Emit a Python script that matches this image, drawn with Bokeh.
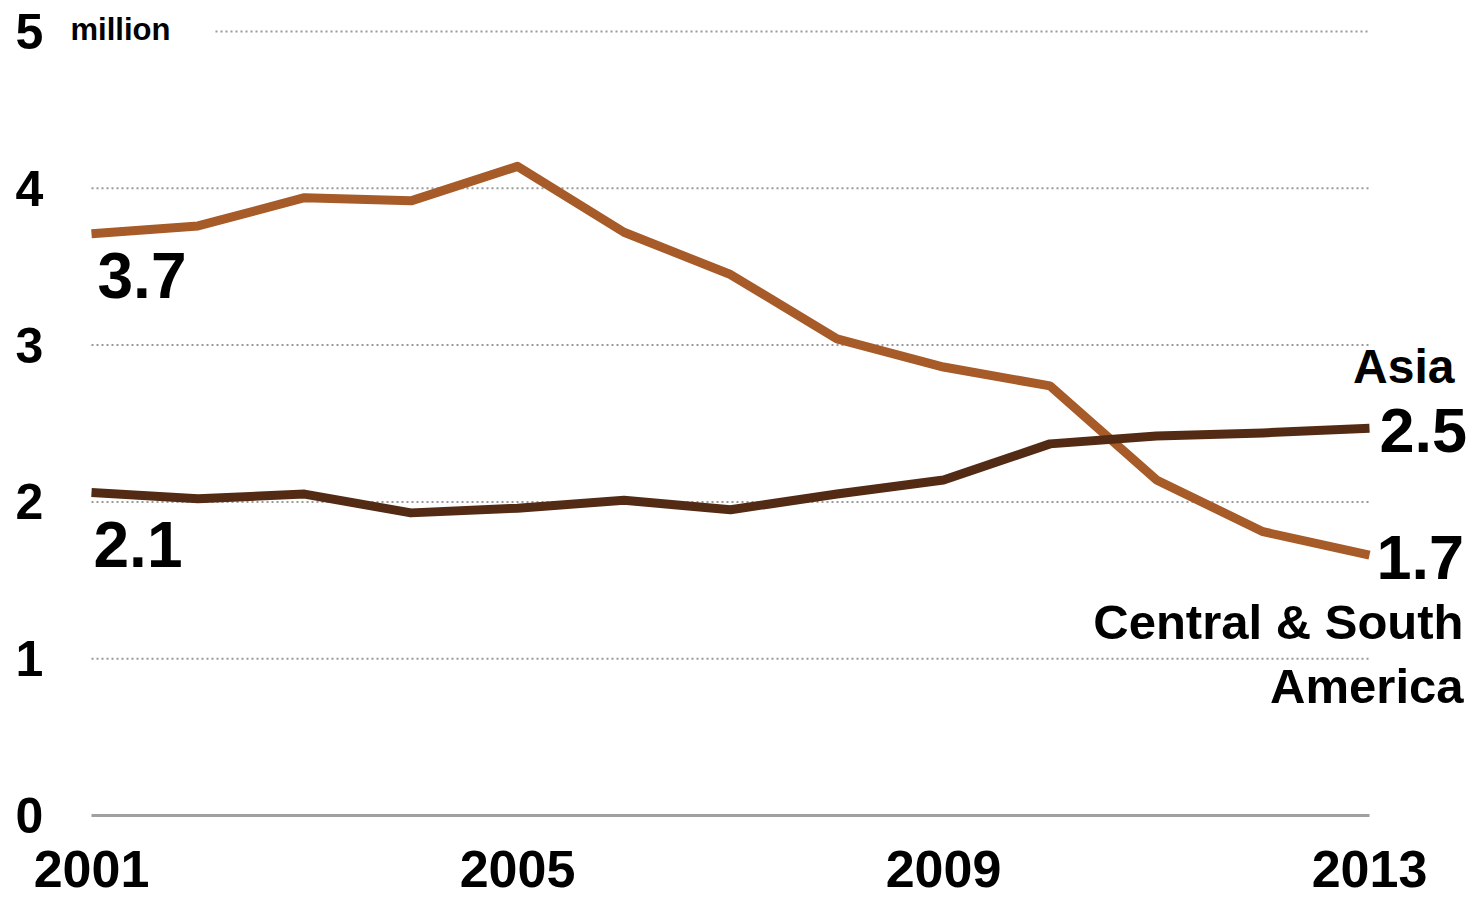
from bokeh.plotting import figure
from bokeh.models import Label, Range1d
from bokeh.embed import file_html
from bokeh.resources import INLINE

years = list(range(2001, 2014))
central_south_america = [3.71, 3.76, 3.94, 3.92, 4.14, 3.72, 3.45, 3.04, 2.86, 2.74, 2.14, 1.81, 1.66]
asia = [2.06, 2.02, 2.05, 1.93, 1.96, 2.01, 1.95, 2.05, 2.14, 2.37, 2.42, 2.44, 2.47]
x_ticks = [2001, 2005, 2009, 2013]
y_ticks = [0, 1, 2, 3, 4, 5]
x_tick_labels = ["2001", "2005", "2009", "2013"]
y_tick_labels = ["0", "1", "2", "3", "4", "5"]

LIGHT = "#A65B28"
DARK = "#532B14"
FONT = "Liberation Sans"

# canvas geometry (pixels)
W, H = 1472, 899
FL, FR, FT, FB = 91, 1369, 31, 815
x0, x1 = years[0], years[-1]
y0, y1 = y_ticks[0], y_ticks[-1]
pxx = (FR - FL) / (x1 - x0)
pxy = (FB - FT) / (y1 - y0)

p = figure(width=W, height=H, output_backend="svg", toolbar_location=None,
           x_range=Range1d(x0 - FL / pxx, x1 + (W - FR) / pxx),
           y_range=Range1d(y0 - (H - FB) / pxy, y1 + FT / pxy),
           min_border=0)
p.outline_line_color = None
p.background_fill_color = "white"
p.border_fill_color = "white"
p.axis.visible = False
p.grid.visible = False

# dotted gridlines (the top one starts after the unit label)
grid_vals = y_ticks[1:]
grid_start = [x0 + (124 / pxx if v == y1 else 0) for v in grid_vals]
p.segment(x0=grid_start, x1=[x1] * len(grid_vals), y0=grid_vals, y1=grid_vals,
          line_color="#999999", line_width=2, line_dash="2 3")
# zero baseline
p.segment(x0=[x0], x1=[x1], y0=[y0], y1=[y0], line_color="#a0a0a0", line_width=3)

p.line(years, central_south_america, line_color=LIGHT, line_width=9, line_join="round")
p.line(years, asia, line_color=DARK, line_width=9, line_join="round")


def lab(text, x, y, xo, yo_down, size, align="left"):
    p.add_layout(Label(x=x, y=y, x_offset=xo, y_offset=-yo_down, text=text,
                       text_font=FONT, text_font_style="bold", text_font_size=size,
                       text_color="black", text_align=align, text_baseline="middle"))


# axis tick labels
for v, t in zip(y_ticks, y_tick_labels):
    lab(t, x0, v, -76, 0, "50px")
for v, t in zip(x_ticks, x_tick_labels):
    lab(t, v, y0, 0, 53, "52px", align="center")
lab("million", x0, y1, -21, -2, "31px")

# end-point values and series names
lab(f"{central_south_america[0]:.1f}", years[0], central_south_america[0], 6, 42, "64px")
lab(f"{asia[0]:.1f}", years[0], asia[0], 2, 52, "64px")
lab(f"{asia[-1]:.1f}", years[-1], asia[-1], 10, 2, "63px")
lab(f"{central_south_america[-1]:.1f}", years[-1], central_south_america[-1], 7, 2, "63px")
lab("Asia", years[-1], asia[-1], 85, -62, "48px", align="right")
lab("Central & South", years[-1], central_south_america[-1], 94, 67, "49px", align="right")
lab("America", years[-1], central_south_america[-1], 94, 131, "49px", align="right")

open("out.html", "w").write(file_html(p, INLINE))
